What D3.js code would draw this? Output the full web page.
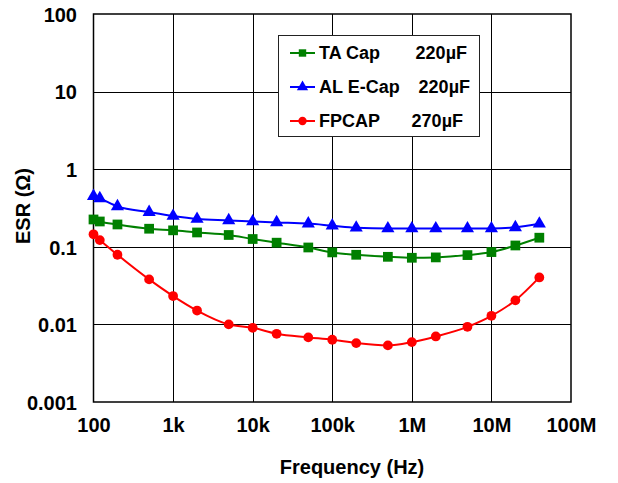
<!DOCTYPE html>
<html>
<head>
<meta charset="utf-8">
<script src="https://cdn.jsdelivr.net/npm/d3@7"></script>
<style>
  html, body { margin: 0; padding: 0; background: #fff; }
  svg { display: block; }
  text { font-family: Arial, "Liberation Sans", sans-serif; font-weight: bold; fill: #000; }
</style>
</head>
<body>
<svg id="chart" width="618" height="483"></svg>
<script>
// Measurement frequencies (Hz)
const frequencies = [100, 120, 200, 500, 1e3, 2e3, 5e3, 1e4, 2e4, 5e4, 1e5, 2e5, 5e5, 1e6, 2e6, 5e6, 1e7, 2e7, 4e7];

// ESR (ohm) per capacitor type
const taCap   = [0.225, 0.212, 0.194, 0.171, 0.163, 0.153, 0.142, 0.126, 0.113, 0.098, 0.0847, 0.0789, 0.0743, 0.0722, 0.0730, 0.0782, 0.0855, 0.104, 0.131];
const alECap  = [0.45, 0.42, 0.332, 0.280, 0.249, 0.228, 0.219, 0.212, 0.206, 0.199, 0.187, 0.176, 0.172, 0.172, 0.172, 0.172, 0.172, 0.178, 0.198];
const fpcap   = [0.145, 0.122, 0.079, 0.038, 0.0232, 0.0151, 0.0100, 0.00904, 0.00757, 0.00680, 0.00634, 0.00574, 0.00536, 0.00591, 0.00700, 0.00931, 0.0129, 0.0204, 0.0403];

// Axis ticks
const xTicks = [1e2, 1e3, 1e4, 1e5, 1e6, 1e7, 1e8];
const xTickLabels = ["100", "1k", "10k", "100k", "1M", "10M", "100M"];
const yTicks = [0.001, 0.01, 0.1, 1, 10, 100];
const yTickLabels = ["0.001", "0.01", "0.1", "1", "10", "100"];

// Legend entries
const seriesNames = ["TA Cap", "AL E-Cap", "FPCAP"];
const seriesCaps = ["220µF", "220µF", "270µF"];

const svg = d3.select("#chart");
const plot = { left: 93.5, right: 571, top: 14, bottom: 402 };
const font = "Arial, 'Liberation Sans', sans-serif";

const x = d3.scaleLog().domain([1e2, 1e8]).range([plot.left, plot.right]);
const y = d3.scaleLog().domain([0.001, 100]).range([plot.bottom, plot.top]);

// Grid lines
const grid = svg.append("g");
grid.selectAll("line.v").data(xTicks.slice(1, -1)).join("line")
  .attr("x1", d => Math.round(x(d)) + 0.5).attr("x2", d => Math.round(x(d)) + 0.5)
  .attr("y1", plot.top).attr("y2", plot.bottom)
  .attr("stroke", "#000").attr("stroke-width", 1);
grid.selectAll("line.h").data(yTicks.slice(1, -1)).join("line")
  .attr("y1", d => Math.round(y(d)) + 0.5).attr("y2", d => Math.round(y(d)) + 0.5)
  .attr("x1", plot.left).attr("x2", plot.right)
  .attr("stroke", "#000").attr("stroke-width", 1);

// Axes with labels only (frame is drawn separately)
const xAxis = d3.axisBottom(x).tickValues(xTicks).tickSize(0).tickPadding(0)
  .tickFormat((d, i) => xTickLabels[i]);
const gx = svg.append("g").attr("transform", `translate(0,${plot.bottom})`).call(xAxis);
gx.select(".domain").remove();
gx.selectAll("text").attr("dy", null).attr("y", 30).attr("font-size", 20)
  .style("font-family", font).style("font-weight", "bold");

const yAxis = d3.axisLeft(y).tickValues(yTicks).tickSize(0).tickPadding(0)
  .tickFormat((d, i) => yTickLabels[i]);
const gy = svg.append("g").attr("transform", `translate(${plot.left},0)`).call(yAxis);
gy.select(".domain").remove();
gy.selectAll("text").attr("x", -16.5).attr("dy", "0.36em").attr("font-size", 20)
  .style("font-family", font).style("font-weight", "bold");

// Plot frame
svg.append("rect")
  .attr("x", plot.left).attr("y", plot.top)
  .attr("width", plot.right - plot.left).attr("height", plot.bottom - plot.top)
  .attr("fill", "none").attr("stroke", "#000").attr("stroke-width", 1.5);

// Axis titles
svg.append("text").attr("x", 352).attr("y", 474).attr("text-anchor", "middle")
  .attr("font-size", 20).text("Frequency (Hz)");
svg.append("text").attr("transform", "translate(30,206) rotate(-90)")
  .attr("text-anchor", "middle").attr("font-size", 20).text("ESR (Ω)");

// Series
const series = [
  { name: seriesNames[0], values: taCap, color: "#008000", shape: d3.symbolSquare, size: 95 },
  { name: seriesNames[1], values: alECap, color: "#0000ff", shape: d3.symbolTriangle, size: 75 },
  { name: seriesNames[2], values: fpcap, color: "#ff0000", shape: d3.symbolCircle, size: 75 }
];

const line = d3.line().x(d => x(d[0])).y(d => y(d[1])).curve(d3.curveMonotoneX);

series.forEach(s => {
  const pts = frequencies.map((f, i) => [f, s.values[i]]);
  const g = svg.append("g");
  g.append("path").datum(pts).attr("d", line)
    .attr("fill", "none").attr("stroke", s.color).attr("stroke-width", 2);
  g.selectAll("path.m").data(pts).join("path")
    .attr("transform", d => `translate(${x(d[0])},${y(d[1])})`)
    .attr("d", d3.symbol().type(s.shape).size(s.size))
    .attr("fill", s.color);
});

// Legend
const legend = svg.append("g");
legend.append("rect").attr("x", 278.5).attr("y", 35.5).attr("width", 201).attr("height", 101)
  .attr("fill", "#fff").attr("stroke", "#222").attr("stroke-width", 1);
const rowY = [53, 87, 121];
const capX = [467, 470, 463];
series.forEach((s, i) => {
  legend.append("line").attr("x1", 290).attr("x2", 315).attr("y1", rowY[i]).attr("y2", rowY[i])
    .attr("stroke", s.color).attr("stroke-width", 2);
  legend.append("path").attr("transform", `translate(302.5,${rowY[i]})`)
    .attr("d", d3.symbol().type(s.shape).size(55)).attr("fill", s.color);
  legend.append("text").attr("x", 319).attr("y", rowY[i]).attr("dy", "0.36em")
    .attr("font-size", 18).text(s.name);
  legend.append("text").attr("x", capX[i]).attr("y", rowY[i]).attr("dy", "0.36em")
    .attr("text-anchor", "end").attr("font-size", 18).text(seriesCaps[i]);
});
</script>
</body>
</html>
